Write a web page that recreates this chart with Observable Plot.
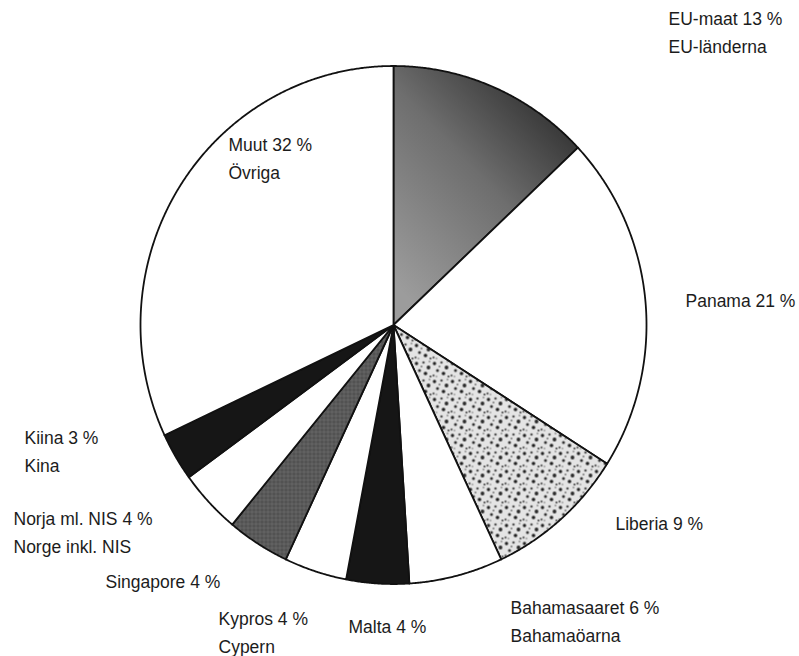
<!DOCTYPE html>
<html><head><meta charset="utf-8">
<script src="https://cdn.jsdelivr.net/npm/d3@7"></script>
<script src="https://cdn.jsdelivr.net/npm/@observablehq/plot@0.6"></script>
<style>body{margin:0;background:#fff} svg{display:block}</style>
</head><body><div id="chart"></div>
<script>
// ---- data ----
const names = ["EU", "Panama", "Liberia", "Bahamas", "Malta", "Kypros", "Singapore", "Norja", "Kiina", "Muut"];
const shares = [13, 21, 9, 6, 4, 4, 4, 4, 3, 32];
const labelsFi = ["EU-maat 13 %", "Panama 21 %", "Liberia 9 %", "Bahamasaaret 6 %", "Malta 4 %", "Kypros 4 %", "Singapore 4 %", "Norja ml. NIS 4 %", "Kiina 3 %", "Muut 32 %"];
const labelsSv = ["EU-länderna", "", "", "Bahamaöarna", "", "Cypern", "", "Norge inkl. NIS", "Kina", "Övriga"];

// ---- styles / layout ----
const sliceFill = {
  EU: "url(#euFill)", Panama: "white", Liberia: "url(#liberiaFill)", Bahamas: "white",
  Malta: "#161616", Kypros: "white", Singapore: "url(#sgFill)", Norja: "white", Kiina: "#161616", Muut: "white"
};
const W = 799, H = 656, CX = 393, CY = 324.5, RX = 253, RY = 259, FS = 17.5;
// label anchor (left x, first-line baseline) in pixels
const labelAt = {
  EU: [668, 17], Panama: [685, 299], Liberia: [615, 522], Bahamas: [510, 606], Malta: [348, 625],
  Kypros: [218, 617], Singapore: [105, 580], Norja: [13, 517], Kiina: [24, 436], Muut: [228, 143]
};

const rows = names.map((n, i) => ({name: n, share: shares[i], fi: labelsFi[i], sv: labelsSv[i]}));
const arcs = d3.pie().sort(null).value(d => d.share).startAngle(0).endAngle(2 * Math.PI)(rows);

const pts = [];
for (const a of arcs) {
  const n = a.data.name;
  pts.push({name: n, x: 0, y: 0, fill: sliceFill[n]});
  const steps = Math.max(4, Math.ceil((a.endAngle - a.startAngle) / 0.005));
  for (let k = 0; k <= steps; k++) {
    const t = a.startAngle + (a.endAngle - a.startAngle) * k / steps;
    pts.push({name: n, x: Math.sin(t), y: Math.cos(t), fill: sliceFill[n]});
  }
  pts.push({name: n, x: 0, y: 0, fill: sliceFill[n]});
}

const toUx = px => (px - CX) / RX;
const toUy = py => (CY - py) / RY;
const labels = rows.map(d => {
  const [lx, by] = labelAt[d.name];
  return {x: toUx(lx), y: toUy(by - 0.71 * FS), text: d.sv ? d.fi + "\n" + d.sv : d.fi};
});

const chart = Plot.plot({
  width: W, height: H,
  margin: 0,
  x: {domain: [-CX / RX, (W - CX) / RX], range: [0, W], axis: null},
  y: {domain: [-(H - CY) / RY, CY / RY], range: [H, 0], axis: null},
  color: {type: "identity"},
  style: {background: "white"},
  marks: [
    Plot.line(pts, {x: "x", y: "y", z: "name", fill: "fill", stroke: "#111", strokeWidth: 1.8, curve: "linear"}),
    Plot.text(labels, {x: "x", y: "y", text: "text", textAnchor: "start", lineAnchor: "top",
      lineHeight: 28 / FS, fontSize: FS, fontFamily: "'Liberation Sans', Arial, sans-serif", fill: "#1c1c1c"})
  ]
});

// pattern / gradient definitions used by the slice fills
const svg = d3.select(chart);
const defs = svg.insert("defs", ":first-child");
const g = defs.append("linearGradient").attr("id", "euFill").attr("gradientUnits", "userSpaceOnUse")
  .attr("x1", 400).attr("y1", 290).attr("x2", 580).attr("y2", 120);
g.append("stop").attr("offset", 0).attr("stop-color", "#9c9c9c");
g.append("stop").attr("offset", 0.55).attr("stop-color", "#6e6e6e");
g.append("stop").attr("offset", 1).attr("stop-color", "#2e2e2e");
const sg = defs.append("pattern").attr("id", "sgFill").attr("patternUnits", "userSpaceOnUse").attr("width", 4).attr("height", 4);
sg.append("rect").attr("width", 4).attr("height", 4).attr("fill", "#5a5a5a");
sg.append("rect").attr("x", 1).attr("y", 1).attr("width", 1).attr("height", 1).attr("fill", "#3a3a3a");
sg.append("rect").attr("x", 3).attr("y", 3).attr("width", 1).attr("height", 1).attr("fill", "#777");
const lp = defs.append("pattern").attr("id", "liberiaFill").attr("patternUnits", "userSpaceOnUse").attr("width", 18).attr("height", 18);
lp.append("rect").attr("width", 18).attr("height", 18).attr("fill", "#e4e4e4");
[[2,3,1.7,"#222"],[9,2,1.3,"#555"],[14,7,1.9,"#2a2a2a"],[5,10,1.5,"#333"],[11,13,1.8,"#1e1e1e"],
 [1,15,1.2,"#666"],[16,16,1.1,"#444"],[7,6,1.0,"#777"],[15,1,0.9,"#888"],[4,16,0.9,"#999"]]
  .forEach(([x, y, r, c]) => lp.append("circle").attr("cx", x).attr("cy", y).attr("r", r).attr("fill", c));

document.getElementById("chart").append(chart);
</script>
</body></html>
